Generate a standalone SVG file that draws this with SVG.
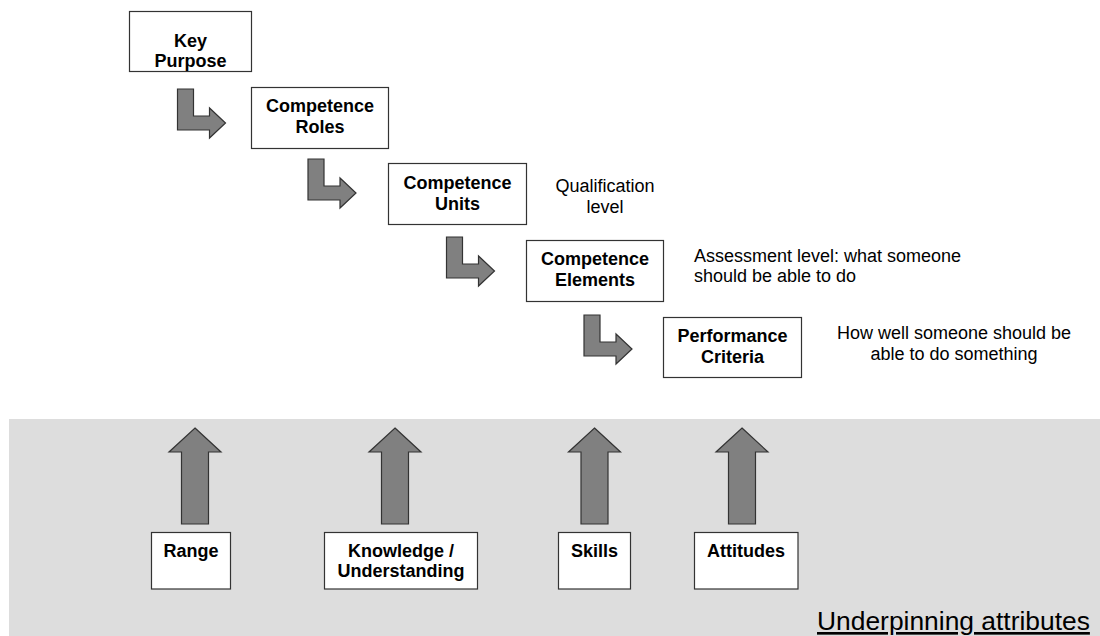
<svg xmlns="http://www.w3.org/2000/svg" width="1100" height="636" viewBox="0 0 1100 636">
<style>
.box{fill:#ffffff;stroke:#333333;stroke-width:1.2}
.arr{fill:#808080;stroke:#333333;stroke-width:1.2;stroke-linejoin:miter}
.lbl{font-family:"Liberation Sans",Arial,sans-serif;font-size:18px;font-weight:bold;fill:#000;text-anchor:middle}
.note{font-family:"Liberation Sans",Arial,sans-serif;font-size:18px;fill:#000}
.big{font-family:"Liberation Sans",Arial,sans-serif;font-size:26.4px;fill:#000;text-decoration:underline}
</style>
<defs>
<path id="bent" d="M0,0 H16 V27 H32 V19 L48,34 L32,49 V41 H0 Z"/>
<path id="up" d="M0,0 L26,24 H13.5 V96 H-13.5 V24 H-26 Z"/>
</defs>
<rect id="background" x="9" y="419" width="1091" height="217" fill="#dddddd"/>
<g id="connectors">
<use href="#bent" class="arr" x="177.5" y="89"/>
<use href="#bent" class="arr" x="308" y="159"/>
<use href="#bent" class="arr" x="446.5" y="237"/>
<use href="#bent" class="arr" x="584" y="315"/>
<use href="#up" class="arr" x="195" y="428"/>
<use href="#up" class="arr" x="395" y="428"/>
<use href="#up" class="arr" x="594.5" y="428"/>
<use href="#up" class="arr" x="742" y="428"/>
</g>
<g id="key-purpose">
<rect class="box" x="129.5" y="11.5" width="122" height="60"/>
<text class="lbl" x="190.5" y="46.5">Key</text>
<text class="lbl" x="190.5" y="66.5">Purpose</text>
</g>
<g id="competence-roles">
<rect class="box" x="251.5" y="87.5" width="137" height="61"/>
<text class="lbl" x="320" y="111.5">Competence</text>
<text class="lbl" x="320" y="133">Roles</text>
</g>
<g id="competence-units">
<rect class="box" x="388.5" y="163.5" width="138" height="61"/>
<text class="lbl" x="457.5" y="189">Competence</text>
<text class="lbl" x="457.5" y="209.5">Units</text>
</g>
<g id="competence-elements">
<rect class="box" x="526.5" y="240.5" width="137" height="61"/>
<text class="lbl" x="595" y="265">Competence</text>
<text class="lbl" x="595" y="285.5">Elements</text>
</g>
<g id="performance-criteria">
<rect class="box" x="663.5" y="317.5" width="138" height="60"/>
<text class="lbl" x="732.5" y="342">Performance</text>
<text class="lbl" x="732.5" y="362.5">Criteria</text>
</g>
<g id="note-qualification">
<text class="note" x="605" y="192" text-anchor="middle">Qualification</text>
<text class="note" x="605" y="213" text-anchor="middle">level</text>
</g>
<g id="note-assessment">
<text class="note" x="694" y="261.5">Assessment level: what someone</text>
<text class="note" x="694" y="281.5">should be able to do</text>
</g>
<g id="note-performance">
<text class="note" x="954" y="338.5" text-anchor="middle">How well someone should be</text>
<text class="note" x="954" y="359.5" text-anchor="middle">able to do something</text>
</g>
<g id="range">
<rect class="box" x="151.5" y="532.5" width="79" height="56.5"/>
<text class="lbl" x="191" y="557">Range</text>
</g>
<g id="knowledge">
<rect class="box" x="324.5" y="532.5" width="153" height="56.5"/>
<text class="lbl" x="401" y="557">Knowledge /</text>
<text class="lbl" x="401" y="577">Understanding</text>
</g>
<g id="skills">
<rect class="box" x="558.5" y="532.5" width="72" height="56.5"/>
<text class="lbl" x="594.5" y="557">Skills</text>
</g>
<g id="attitudes">
<rect class="box" x="694.5" y="532.5" width="103.5" height="56.5"/>
<text class="lbl" x="746" y="557">Attitudes</text>
</g>
<text class="big" x="817" y="630">Underpinning attributes</text>
</svg>
